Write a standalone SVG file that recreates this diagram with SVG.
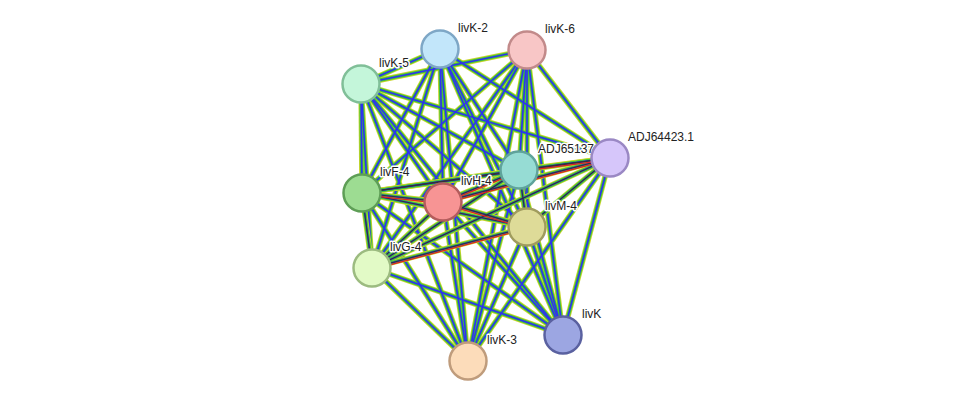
<svg xmlns="http://www.w3.org/2000/svg" xmlns:xlink="http://www.w3.org/1999/xlink" width="975" height="407" viewBox="0 0 975 407">
<style>
.y{stroke:#c8d42a;stroke-width:5.4;fill:none}
.g{stroke:#3cc43c;stroke-width:3.6;fill:none}
.b{stroke:#3030f0;stroke-width:1.6;fill:none}
.k{stroke:#333;stroke-width:1.1;fill:none}
.r{stroke:#e82020;stroke-width:1.2;fill:none}
circle{stroke-width:2.5}
text{font-family:"Liberation Sans",Arial,sans-serif;font-size:12px;fill:#222;stroke:#fff;stroke-width:3;paint-order:stroke;stroke-linejoin:round}
</style>
<defs>
<g id="all">
<line x1="440" y1="49" x2="361" y2="84"/>
<line x1="440" y1="49" x2="610" y2="158"/>
<line x1="440" y1="49" x2="519" y2="170"/>
<line x1="440" y1="49" x2="362" y2="193"/>
<line x1="440" y1="49" x2="443" y2="202"/>
<line x1="440" y1="49" x2="527" y2="227"/>
<line x1="440" y1="49" x2="372" y2="268"/>
<line x1="440" y1="49" x2="563" y2="335"/>
<line x1="440" y1="49" x2="468" y2="361"/>
<line x1="527" y1="50" x2="361" y2="84"/>
<line x1="527" y1="50" x2="610" y2="158"/>
<line x1="527" y1="50" x2="519" y2="170"/>
<line x1="527" y1="50" x2="362" y2="193"/>
<line x1="527" y1="50" x2="443" y2="202"/>
<line x1="527" y1="50" x2="527" y2="227"/>
<line x1="527" y1="50" x2="372" y2="268"/>
<line x1="527" y1="50" x2="563" y2="335"/>
<line x1="527" y1="50" x2="468" y2="361"/>
<line x1="361" y1="84" x2="610" y2="158"/>
<line x1="361" y1="84" x2="519" y2="170"/>
<line x1="361" y1="84" x2="362" y2="193"/>
<line x1="361" y1="84" x2="443" y2="202"/>
<line x1="361" y1="84" x2="527" y2="227"/>
<line x1="361" y1="84" x2="372" y2="268"/>
<line x1="361" y1="84" x2="563" y2="335"/>
<line x1="361" y1="84" x2="468" y2="361"/>
<line x1="610" y1="158" x2="563" y2="335"/>
<line x1="610" y1="158" x2="468" y2="361"/>
<line x1="519" y1="170" x2="563" y2="335"/>
<line x1="519" y1="170" x2="468" y2="361"/>
<line x1="362" y1="193" x2="563" y2="335"/>
<line x1="362" y1="193" x2="468" y2="361"/>
<line x1="443" y1="202" x2="563" y2="335"/>
<line x1="443" y1="202" x2="468" y2="361"/>
<line x1="527" y1="227" x2="563" y2="335"/>
<line x1="527" y1="227" x2="468" y2="361"/>
<line x1="372" y1="268" x2="563" y2="335"/>
<line x1="372" y1="268" x2="468" y2="361"/>
</g>
<g id="core">
<line x1="610" y1="158" x2="519" y2="170"/>
<line x1="610" y1="158" x2="362" y2="193"/>
<line x1="610" y1="158" x2="443" y2="202"/>
<line x1="610" y1="158" x2="527" y2="227"/>
<line x1="610" y1="158" x2="372" y2="268"/>
<line x1="519" y1="170" x2="362" y2="193"/>
<line x1="519" y1="170" x2="443" y2="202"/>
<line x1="519" y1="170" x2="527" y2="227"/>
<line x1="519" y1="170" x2="372" y2="268"/>
<line x1="362" y1="193" x2="443" y2="202"/>
<line x1="362" y1="193" x2="527" y2="227"/>
<line x1="362" y1="193" x2="372" y2="268"/>
<line x1="443" y1="202" x2="527" y2="227"/>
<line x1="443" y1="202" x2="372" y2="268"/>
<line x1="527" y1="227" x2="372" y2="268"/>
</g>
<g id="red">
<line x1="443" y1="202" x2="362" y2="193"/>
<line x1="443" y1="202" x2="519" y2="170"/>
<line x1="443" y1="202" x2="527" y2="227"/>
<line x1="443" y1="202" x2="610" y2="158"/>
<line x1="372" y1="268" x2="527" y2="227"/>
<line x1="519" y1="170" x2="610" y2="158"/>
</g>
</defs>
<g id="connectors">
<use xlink:href="#all" class="y"/><use xlink:href="#all" class="g"/><use xlink:href="#all" class="b"/>
<use xlink:href="#core" class="y"/><use xlink:href="#core" class="g"/><use xlink:href="#core" class="b"/><use xlink:href="#core" class="k"/>
<use xlink:href="#red" class="r" transform="translate(0,1.6)"/>
</g>
<g id="livK-2"><circle cx="440" cy="49" r="18.5" fill="#c2e6fa" stroke="#7ea7c6"/><text x="458" y="32">livK-2</text></g>
<g id="livK-6"><circle cx="527" cy="50" r="18.5" fill="#f8c6c6" stroke="#c28a8a"/><text x="545" y="33">livK-6</text></g>
<g id="livK-5"><circle cx="361" cy="84" r="18.5" fill="#c4f6da" stroke="#80bf98"/><text x="379" y="67">livK-5</text></g>
<g id="ADJ65137.1"><circle cx="519" cy="170" r="18.5" fill="#96dcd4" stroke="#5fa39b"/><text x="538" y="153">ADJ65137.1</text></g>
<g id="ADJ64423.1"><circle cx="610" cy="158" r="18.5" fill="#d6c6fa" stroke="#9a88c4"/><text x="628" y="141">ADJ64423.1</text></g>
<g id="livF-4"><circle cx="362" cy="193" r="18.5" fill="#9ddc92" stroke="#5e9e56"/><text x="380" y="176">livF-4</text></g>
<g id="livH-4"><circle cx="443" cy="202" r="18.5" fill="#f79494" stroke="#b45c5c"/><text x="461" y="185">livH-4</text></g>
<g id="livM-4"><circle cx="527" cy="227" r="18.5" fill="#dedb98" stroke="#a09c5e"/><text x="545" y="210">livM-4</text></g>
<g id="livG-4"><circle cx="372" cy="268" r="18.5" fill="#e2fac6" stroke="#9cbb80"/><text x="390" y="251">livG-4</text></g>
<g id="livK"><circle cx="563" cy="335" r="18.5" fill="#9ca6e2" stroke="#5a61a0"/><text x="582" y="318">livK</text></g>
<g id="livK-3"><circle cx="468" cy="361" r="18.5" fill="#fcdcba" stroke="#bf9c7c"/><text x="487" y="344">livK-3</text></g>
</svg>
